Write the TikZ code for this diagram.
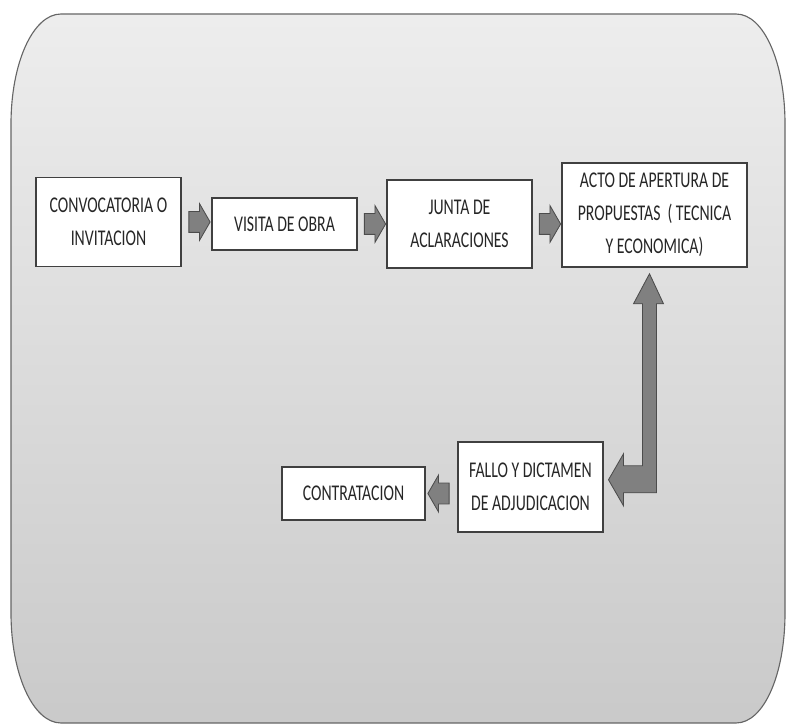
\documentclass[tikz,border=0pt]{standalone}
\usepackage{fontspec}
\newfontfamily\boxfont{Carlito}[FakeStretch=0.7]
\usetikzlibrary{calc,shapes.arrows}
\tikzset{
  etapa/.style  = {draw=black!75, line width=1.1pt, fill=white, align=center,
                   font=\boxfont\fontsize{16}{23.5}\selectfont, text=black!85,
                   inner sep=2pt},
  flecha/.style = {single arrow, draw=black!70, fill=black!50, line width=0.6pt,
                   minimum height=5.3mm, minimum width=9mm, inner xsep=0pt,
                   inner ysep=2.5mm, single arrow head extend=2mm,
                   single arrow tip angle=120},
  flechaL/.style= {flecha, shape border rotate=180},
  codo/.style   = {draw=black!70, fill=black!50, line width=0.6pt},
  fondo/.style  = {draw=black!60, line width=0.8pt, top color=black!7,
                   bottom color=black!21},
}
\begin{document}
\begin{tikzpicture}[x=0.025cm, y=-0.025cm]
  \useasboundingbox (0,0) rectangle (789,727);
  % panel
  \path[fondo] (61,14) -- (736,14) .. controls (764,14) and (785,63) .. (785,124)
       -- (785,613) .. controls (785,674) and (764,723) .. (736,723)
       -- (61,723) .. controls (33,723) and (11,674) .. (11,613)
       -- (11,124) .. controls (11,63) and (33,14) .. (61,14) -- cycle;

  \node[etapa, minimum width=36.25mm, minimum height=22.25mm] (conv) at (108.5,222)
       {CONVOCATORIA O\\INVITACION};
  \node[etapa, minimum width=36.25mm, minimum height=13mm] (visita) at (284.5,224)
       {VISITA DE OBRA};
  \node[etapa, minimum width=36.25mm, minimum height=22mm] (junta) at (459.5,224)
       {JUNTA DE\\ACLARACIONES};
  \node[etapa, minimum width=46.25mm, minimum height=26mm] (acto) at (654.5,215)
       {ACTO DE APERTURA DE\\PROPUESTAS~~( TECNICA\\Y ECONOMICA)};
  \node[etapa, minimum width=36.25mm, minimum height=22.5mm] (fallo) at (530.5,487)
       {FALLO Y DICTAMEN\\DE ADJUDICACION};
  \node[etapa, minimum width=35.75mm, minimum height=13.25mm] (contrat) at (353.5,493.5)
       {CONTRATACION};

  \node[flecha]  (a1) at ($(conv.east)!0.5!(visita.west |- conv.east)$) {};
  \node[flecha]  (a2) at ($(visita.east)!0.5!(junta.west |- visita.east)$) {};
  \node[flecha]  (a3) at ($(junta.east)!0.5!(acto.west |- junta.east)$) {};
  \node[flechaL] (a4) at ($(contrat.east)!0.5!(fallo.west |- contrat.east)$) {};

  % bent double arrow between acto and fallo
  \draw[codo] ($(acto.south)+(-5,6)$) -- ++(14,30) -- ++(-7,0) -- ++(0,189)
       -- ++(-33,0) -- ++(0,13) -- ++(-15,-26) -- ++(15,-26) -- ++(0,12)
       -- ++(19,0) -- ++(0,-162) -- ++(-9,0) -- cycle;
\end{tikzpicture}
\end{document}
